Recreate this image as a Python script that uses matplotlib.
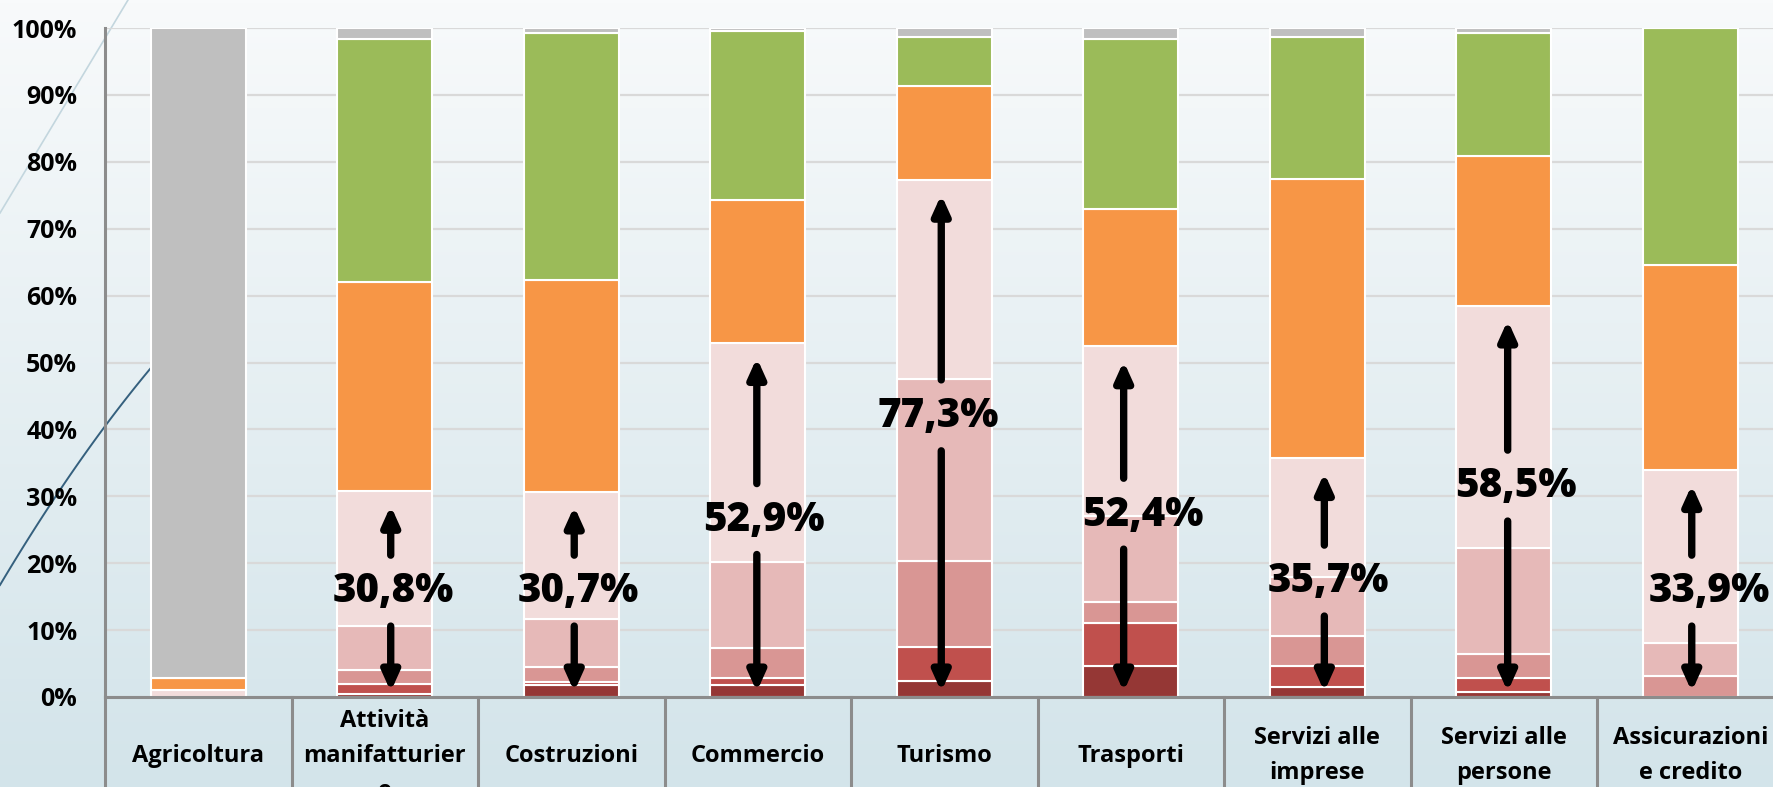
import numpy as np
import matplotlib.pyplot as plt
from matplotlib.colors import LinearSegmentedColormap

# categories (as they are written in the table under the chart)
categories = ['Agricoltura', 'Attività\nmanifatturier\ne', 'Costruzioni', 'Commercio', 'Turismo',
              'Trasporti', 'Servizi alle\nimprese', 'Servizi alle\npersone', 'Assicurazioni\ne credito']

# stacked shares (%), from bottom to top
dark_red = [0, 0.4, 1.8, 1.8, 2.4, 4.7, 1.5, 0.7, 0]
red = [0, 1.5, 0.5, 1.1, 5.0, 6.3, 3.1, 2.1, 0]
mid_pink = [0, 2.2, 2.2, 4.4, 13.0, 3.2, 4.5, 3.7, 3.2]
light_pink = [0, 6.5, 7.2, 12.9, 27.1, 12.8, 8.8, 15.7, 4.8]
pale_pink = [1.0, 20.2, 19.0, 32.7, 29.8, 25.4, 17.8, 36.3, 25.9]
orange = [1.8, 31.2, 31.6, 21.4, 14.1, 20.6, 41.7, 22.4, 30.6]
green = [0, 36.3, 36.9, 25.2, 7.2, 25.4, 21.2, 18.3, 35.5]
grey = [97.2, 1.7, 0.8, 0.5, 1.4, 1.6, 1.4, 0.8, 0]

# totals written on the arrows (no arrow for Agricoltura)
arrow_values = [None, 30.8, 30.7, 52.9, 77.3, 52.4, 35.7, 58.5, 33.9]
label_heights = [None, 15.7, 15.7, 26.4, 41.9, 27.2, 17.2, 31.4, 15.7]
arrow_dx = [0, 0.032, 0.016, -0.005, -0.016, -0.038, 0.038, 0.021, 0.008]
label_dx = [0, 0.048, 0.040, 0.035, -0.035, 0.065, 0.059, 0.066, 0.10]
ticks = list(range(0, 101, 10))

series = [dark_red, red, mid_pink, light_pink, pale_pink, orange, green, grey]
colors = ['#953735', '#C0504D', '#D99694', '#E6B9B8', '#F2DCDB', '#F79646', '#9BBB59', '#BFBFBF']

FONT = 'Open Sans'
W, H = 1773, 787
fig = plt.figure(figsize=(W / 100, H / 100), dpi=100)

# background gradient + decorative lines
bg = fig.add_axes([0, 0, 1, 1], zorder=-10)
bg.axis('off')
cmap = LinearSegmentedColormap.from_list('bg', ['#F8FAFB', '#D3E4EA'])
bg.imshow(np.linspace(0, 1, 256).reshape(-1, 1), cmap=cmap, aspect='auto', extent=(0, W, H, 0))
bg.set_xlim(0, W)
bg.set_ylim(H, 0)
xs = np.linspace(0, 152, 60)
bg.plot(xs, 585 - 1.68 * xs + 0.0016 * xs ** 2, color='#35607E', lw=1.4)
bg.plot([0, 128], [213, 0], color='#C3D6DE', lw=1.2)

ax = fig.add_axes([105 / W, 90 / H, 1678.5 / W, 669 / H])
ax.patch.set_alpha(0)

x = np.arange(len(categories))
bottom = np.zeros(len(categories))
for vals, c in zip(series, colors):
    ax.bar(x, vals, bottom=bottom, width=0.51, color=c, edgecolor='white', linewidth=1.5, zorder=2)
    bottom += np.array(vals)

ax.set_xlim(-0.5, len(categories) - 0.5)
ax.set_ylim(0, 100)
ax.set_yticks(ticks)
ax.set_yticklabels([f'{t}%' for t in ticks], fontsize=18, fontweight='bold', family=FONT)
ax.tick_params(axis='y', length=0, pad=20)
ax.set_xticks([])
ax.yaxis.grid(True, color='#D9D9D9', lw=1.6)
ax.set_axisbelow(True)
for s in ['top', 'right']:
    ax.spines[s].set_visible(False)
for s in ['left', 'bottom']:
    ax.spines[s].set_color('#8C8C8C')
    ax.spines[s].set_linewidth(2.2)

# table under the chart
for k in range(len(categories) + 1):
    ax.axvline(k - 0.5, ymin=-0.2, ymax=0, clip_on=False, color='#8C8C8C', lw=2.2)
for i, name in enumerate(categories):
    ax.text(i, -0.088, name, transform=ax.get_xaxis_transform(), ha='center', va='center',
            fontsize=17, fontweight='bold', family=FONT, linespacing=1.6)

# arrows with the share labels
for i, val in enumerate(arrow_values):
    if val is None:
        continue
    xa = i + arrow_dx[i]
    c = label_heights[i]
    style = '-|>,head_width=0.36,head_length=0.8'
    ax.annotate('', xy=(xa, val - 2.2), xytext=(xa, c + 5.5),
                arrowprops=dict(arrowstyle=style, mutation_scale=14, lw=5.3, color='black',
                                shrinkA=0, shrinkB=0), zorder=5)
    ax.annotate('', xy=(xa, 0.8), xytext=(xa, c - 5.1),
                arrowprops=dict(arrowstyle=style, mutation_scale=14, lw=5.3, color='black',
                                shrinkA=0, shrinkB=0), zorder=5)
    ax.text(i + label_dx[i], c, f'{val:.1f}'.replace('.', ',') + '%', ha='center', va='center',
            fontsize=29, fontweight=800, family=FONT, zorder=6)

fig.savefig('out.png', dpi=100)
